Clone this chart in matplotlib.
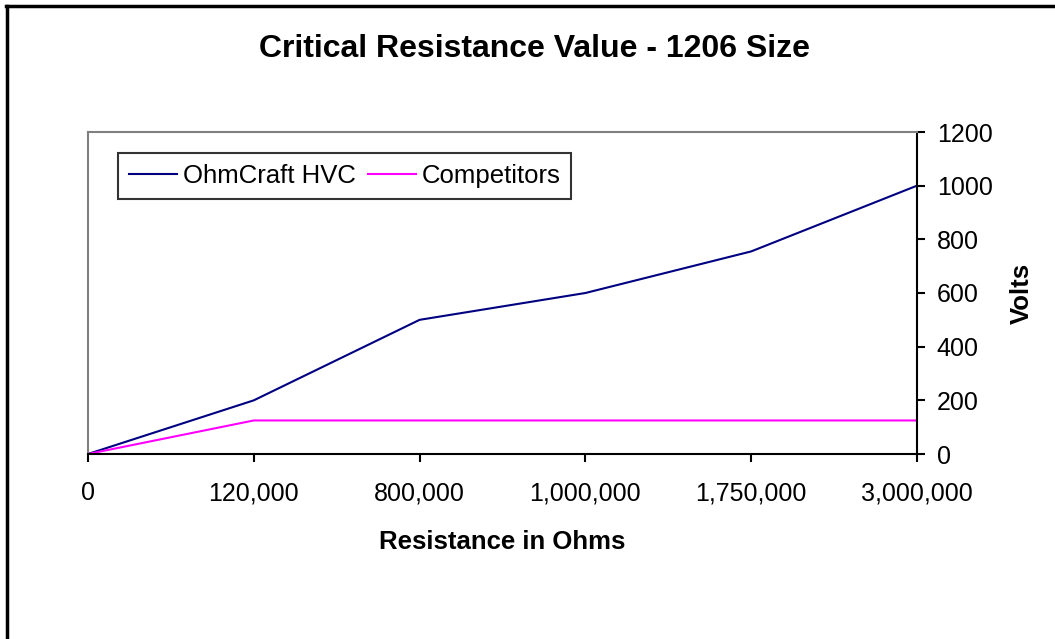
import matplotlib.pyplot as plt
from matplotlib.lines import Line2D

plt.rcParams['font.family'] = ['Liberation Sans', 'DejaVu Sans']

resistance = ['0', '120,000', '800,000', '1,000,000', '1,750,000', '3,000,000']
ohmcraft = [0, 200, 500, 600, 755, 1000]
competitors = [0, 125, 125, 125, 125, 125]

W, H = 1055, 639
fig = plt.figure(figsize=(W / 100, H / 100), dpi=100)
ax = fig.add_axes([88 / W, 1 - 454 / H, (917 - 88) / W, (454 - 132) / H])

x = list(range(len(resistance)))
ax.plot(x, ohmcraft, color='#000080', lw=1.5, label='OhmCraft HVC')
ax.plot(x, competitors, color='#FF00FF', lw=1.5, label='Competitors')

ax.set_xlim(0, len(resistance) - 1)
ax.set_ylim(0, 1200)
ax.set_xticks(x)
ax.set_xticklabels(resistance)
ax.set_yticks(range(0, 1201, 200))

ax.yaxis.tick_right()
ax.yaxis.set_label_position('right')
ax.tick_params(axis='both', direction='out', length=5.8, width=1.5, labelsize=18)
ax.tick_params(axis='x', pad=14)
ax.tick_params(axis='y', pad=8.5)

for side in ['top', 'left']:
    ax.spines[side].set_color('#808080')
    ax.spines[side].set_linewidth(1.5)
for side in ['bottom', 'right']:
    ax.spines[side].set_color('black')
    ax.spines[side].set_linewidth(1.5)

ax.set_xlabel('Resistance in Ohms', fontsize=18.5, fontweight='bold', labelpad=17.5)
ax.set_ylabel('Volts', fontsize=18.5, fontweight='bold', labelpad=12)

fig.suptitle('Critical Resistance Value - 1206 Size', fontsize=23, fontweight='bold',
             x=534.5 / W, y=1 - 49 / H, va='center')

leg = ax.legend(loc='upper left', bbox_to_anchor=(30 / 829, 1 - 21 / 322), ncol=2, fontsize=18.5,
                frameon=True, fancybox=False, edgecolor='black', borderpad=0.42,
                handlelength=1.87, columnspacing=0.47, handletextpad=0.23, borderaxespad=0)
leg.get_frame().set_linewidth(1.5)

# chart border (top and left only, as cropped)
fig.add_artist(Line2D([6 / W, 1], [1 - 6 / H, 1 - 6 / H], transform=fig.transFigure, color='black', lw=2.5))
fig.add_artist(Line2D([7 / W, 7 / W], [0, 1 - 6 / H], transform=fig.transFigure, color='black', lw=2.5))

fig.savefig('out.png', dpi=100)
